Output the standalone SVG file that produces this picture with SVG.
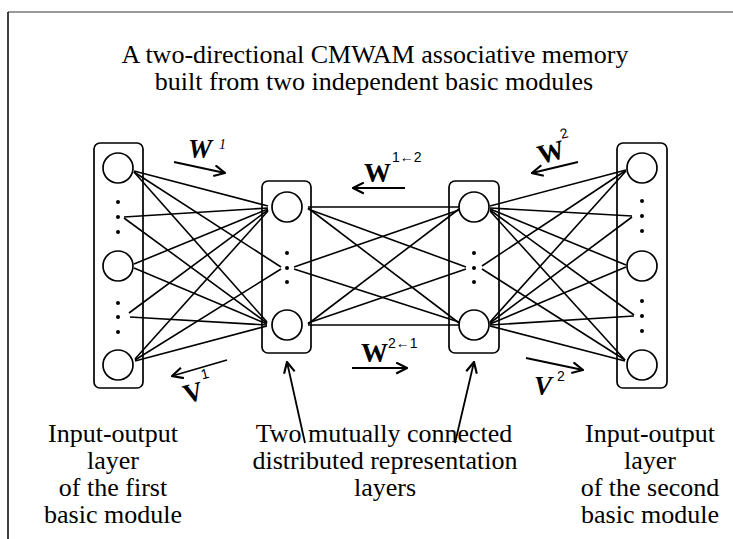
<svg xmlns="http://www.w3.org/2000/svg" width="733" height="539" viewBox="0 0 733 539">
<style>
.box{fill:none;stroke:#000;stroke-width:1.7}
.nd{fill:#fff;stroke:#000;stroke-width:1.7}
.dot{fill:#000}
.ln{stroke:#000;stroke-width:1.6;fill:none}
.arr{stroke:#000;stroke-width:1.8;fill:none}
.t{font-family:"Liberation Serif","Times New Roman",serif;font-size:26px;fill:#000;text-anchor:middle}
.w{font-family:"Liberation Serif","Times New Roman",serif;font-size:27px;font-weight:bold;fill:#000}
.sup{font-family:"Liberation Sans",Arial,sans-serif;font-size:14px;fill:#000}
</style>
<defs>
<marker id="ah" viewBox="0 0 12 12" refX="11" refY="6" markerWidth="13" markerHeight="13" markerUnits="userSpaceOnUse" orient="auto">
<path d="M1,1 L11,6 L1,11" fill="none" stroke="#000" stroke-width="2"/>
</marker>
</defs>
<rect width="733" height="539" fill="#fff"/>
<g id="frame">
<line x1="8" y1="12" x2="733" y2="12" stroke="#777" stroke-width="1.5"/>
<line x1="8" y1="12" x2="8" y2="539" stroke="#000" stroke-width="1.5"/>
</g>
<g id="title">
<text class="t" x="375" y="63">A two-directional CMWAM associative memory</text>
<text class="t" x="374" y="90">built from two independent basic modules</text>
</g>
<g id="connectors">
<line class="ln" x1="134" y1="171" x2="268" y2="206"/>
<line class="ln" x1="134" y1="172" x2="267" y2="322"/>
<line class="ln" x1="134" y1="172" x2="281" y2="267"/>
<line class="ln" x1="124" y1="217" x2="268" y2="208"/>
<line class="ln" x1="124" y1="218" x2="267" y2="323"/>
<line class="ln" x1="134" y1="264" x2="268" y2="209"/>
<line class="ln" x1="134" y1="268" x2="267" y2="324"/>
<line class="ln" x1="129" y1="313" x2="268" y2="210"/>
<line class="ln" x1="130" y1="317" x2="267" y2="325"/>
<line class="ln" x1="135" y1="359" x2="268" y2="211"/>
<line class="ln" x1="135" y1="361" x2="267" y2="326"/>
<line class="ln" x1="135" y1="360" x2="281" y2="269"/>
<line class="ln" x1="308" y1="207" x2="459" y2="207"/>
<line class="ln" x1="308" y1="208" x2="459" y2="323"/>
<line class="ln" x1="308" y1="209" x2="466" y2="267"/>
<line class="ln" x1="308" y1="325" x2="459" y2="325"/>
<line class="ln" x1="308" y1="324" x2="459" y2="209"/>
<line class="ln" x1="308" y1="323" x2="466" y2="269"/>
<line class="ln" x1="294" y1="267" x2="459" y2="210"/>
<line class="ln" x1="294" y1="269" x2="459" y2="322"/>
<line class="ln" x1="490" y1="206" x2="626" y2="170"/>
<line class="ln" x1="490" y1="322" x2="626" y2="171"/>
<line class="ln" x1="482" y1="266" x2="625" y2="171"/>
<line class="ln" x1="490" y1="208" x2="632" y2="216"/>
<line class="ln" x1="490" y1="323" x2="632" y2="217"/>
<line class="ln" x1="490" y1="209" x2="626" y2="265"/>
<line class="ln" x1="490" y1="324" x2="626" y2="267"/>
<line class="ln" x1="490" y1="210" x2="634" y2="315"/>
<line class="ln" x1="490" y1="325" x2="634" y2="316"/>
<line class="ln" x1="490" y1="211" x2="625" y2="360"/>
<line class="ln" x1="490" y1="326" x2="625" y2="361"/>
<line class="ln" x1="482" y1="269" x2="625" y2="360"/>
<line class="arr" x1="174" y1="162" x2="225" y2="173" marker-end="url(#ah)"/>
<line class="arr" x1="405" y1="188" x2="353" y2="188" marker-end="url(#ah)"/>
<line class="arr" x1="578" y1="162" x2="532" y2="173" marker-end="url(#ah)"/>
<line class="arr" x1="227" y1="360" x2="172" y2="376" marker-end="url(#ah)"/>
<line class="arr" x1="352" y1="368" x2="407" y2="368" marker-end="url(#ah)"/>
<line class="arr" x1="526" y1="358" x2="583" y2="370" marker-end="url(#ah)"/>
<line class="arr" x1="305" y1="443" x2="287" y2="362" marker-end="url(#ah)"/>
<line class="arr" x1="455" y1="443" x2="474" y2="362" marker-end="url(#ah)"/>
</g>
<g id="layer-in1">
<rect class="box" x="94" y="143" width="49" height="245" rx="6"/>
<circle class="nd" cx="118" cy="168" r="15"/>
<circle class="nd" cx="118" cy="266" r="15"/>
<circle class="nd" cx="118" cy="365" r="15"/>
<circle class="dot" cx="118" cy="202" r="2"/><circle class="dot" cx="118" cy="217" r="2"/><circle class="dot" cx="118" cy="232" r="2"/>
<circle class="dot" cx="118" cy="303" r="2"/><circle class="dot" cx="118" cy="317" r="2"/><circle class="dot" cx="118" cy="332" r="2"/>
</g>
<g id="layer-dr1">
<rect class="box" x="262" y="181" width="49" height="172" rx="6"/>
<circle class="nd" cx="287" cy="207" r="15"/>
<circle class="nd" cx="287" cy="325" r="15"/>
<circle class="dot" cx="287" cy="253" r="2"/><circle class="dot" cx="287" cy="268" r="2"/><circle class="dot" cx="287" cy="282" r="2"/>
</g>
<g id="layer-dr2">
<rect class="box" x="449" y="181" width="50" height="172" rx="6"/>
<circle class="nd" cx="474" cy="207" r="15"/>
<circle class="nd" cx="474" cy="325" r="15"/>
<circle class="dot" cx="474" cy="253" r="2"/><circle class="dot" cx="474" cy="268" r="2"/><circle class="dot" cx="474" cy="282" r="2"/>
</g>
<g id="layer-in2">
<rect class="box" x="617" y="143" width="50" height="245" rx="6"/>
<circle class="nd" cx="642" cy="168" r="15"/>
<circle class="nd" cx="642" cy="266" r="15"/>
<circle class="nd" cx="642" cy="365" r="15"/>
<circle class="dot" cx="642" cy="201" r="2"/><circle class="dot" cx="642" cy="216" r="2"/><circle class="dot" cx="642" cy="231" r="2"/>
<circle class="dot" cx="642" cy="301" r="2"/><circle class="dot" cx="642" cy="316" r="2"/><circle class="dot" cx="642" cy="331" r="2"/>
</g>
<g id="labels">
<text class="w" x="188" y="158" font-style="italic">W</text>
<text x="219" y="149" font-family="Liberation Serif, serif" font-style="italic" font-size="14">1</text>
<text class="w" x="364" y="182">W</text>
<text class="sup" x="392" y="162">1←2</text>
<text class="w" x="361" y="362">W</text>
<text class="sup" x="388" y="348">2←1</text>
<g transform="rotate(-15 552 158)">
<text class="w" x="539" y="161">W</text>
<text class="sup" x="566" y="142">2</text>
</g>
<g transform="rotate(-15 195 395)">
<text class="w" x="184" y="401">V</text>
<text class="sup" x="206" y="382">1</text>
</g>
<text class="w" x="534" y="395" font-style="italic">V</text>
<text class="sup" x="557" y="381">2</text>
</g>
<g id="captions">
<text class="t" x="113" y="442">Input-output</text>
<text class="t" x="113" y="469">layer</text>
<text class="t" x="113" y="496">of the first</text>
<text class="t" x="113" y="523">basic module</text>
<text class="t" x="384" y="442">Two mutually connected</text>
<text class="t" x="385" y="469">distributed representation</text>
<text class="t" x="385" y="496">layers</text>
<text class="t" x="650" y="442">Input-output</text>
<text class="t" x="650" y="469">layer</text>
<text class="t" x="650" y="496">of the second</text>
<text class="t" x="650" y="523">basic module</text>
</g>
</svg>
